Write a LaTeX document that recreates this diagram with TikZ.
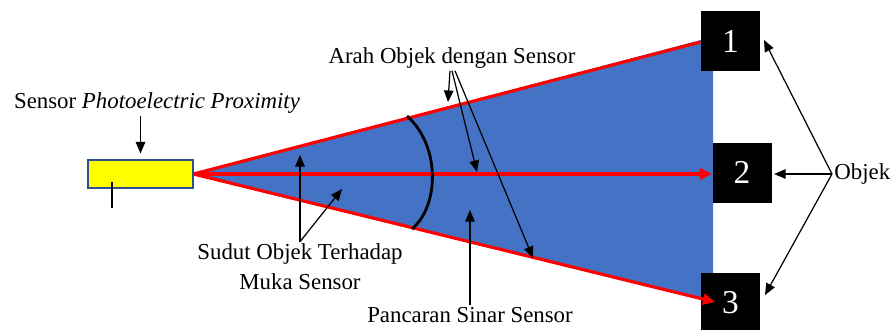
\documentclass[tikz,border=0pt]{standalone}
\usepackage{fontspec}
\setmainfont{Liberation Serif}
\usetikzlibrary{arrows.meta}
\definecolor{beamblue}{HTML}{4472C4}
\definecolor{rimblue}{HTML}{2F528F}
\definecolor{sensoryellow}{HTML}{FFFF00}
\tikzset{
  every picture/.style={font=\fontsize{13}{17}\selectfont, line width=0.7pt},
  tag/.style={inner sep=1pt, align=center},
  pointer/.style={-{Triangle[length=2.3mm, width=1.9mm]}, draw=black, line width=0.7pt},
  ray/.style={draw=red, line width=1.8pt},
  rayarrow/.style={ray, -{Triangle[length=2.4mm, width=2.2mm]}},
  objbox/.style={fill=black, text=white, minimum width=1.18cm, minimum height=1.2cm,
    inner sep=0pt, font=\fontsize{19}{21}\selectfont},
}

\begin{document}
\begin{tikzpicture}[x=0.02cm, y=-0.02cm]
  \useasboundingbox (0,0) rectangle (893,329);
  % sensor and beam
  \node[draw=rimblue, fill=sensoryellow, line width=0.6pt, minimum width=2.1cm, minimum height=0.56cm, inner sep=0pt] (sensor) at (140.5,174) {};
  \draw[line width=0.6pt] (112,182) -- (112,208);
  \coordinate (apex) at (sensor.east);
  \fill[beamblue] (apex) -- (701,40) -- (713,40) -- (713,301) -- cycle;
  % objects
  \node[objbox] (obj1) at (730.5,41) {1};
  \node[objbox] (obj2) at (742,172.5) {2};
  \node[objbox] (obj3) at (730.5,303) {3};
  \coordinate (end1) at (obj1.west |- 0,42);
  \coordinate (end3) at (715,302);
  \draw[ray] (apex) -- (end1);
  \draw[rayarrow] (apex) -- (obj2.west |- apex);
  \draw[rayarrow] (apex) -- (end3);
  % angle arc
  \draw[line width=1.6pt] (407,116) .. controls (440,145) and (440,205) .. (412,229);
  % labels
  \node[tag] (sensortext) at (157,103) {Sensor \textit{Photoelectric Proximity}};
  \node[tag] (arahtext) at (452,58) {Arah Objek dengan Sensor};
  \node[tag] (sudut) at (300,267) {Sudut Objek Terhadap\\Muka Sensor};
  \node[tag] (pancaran) at (470,315) {Pancaran Sinar Sensor};
  \node[tag, anchor=west] (objek) at (832,174) {Objek};
  % pointers
  \draw[pointer, shorten >=0.12cm] (sensortext.south -| sensor.north) -- (sensor.north);
  \coordinate (arahA) at (448,102);
  \coordinate (arahB) at (477,172);
  \coordinate (arahC) at (533,258);
  \draw[pointer] ([xshift=-0.04cm]arahtext.south) -- (arahA);
  \draw[pointer] (arahtext.south) -- (arahB);
  \draw[pointer] ([xshift=0.06cm]arahtext.south) -- (arahC);
  \coordinate (sudutA) at (300,155);
  \coordinate (sudutB) at (342,189);
  \draw[pointer] (sudut.north) -- (sudutA);
  \draw[pointer] (sudut.north) -- (sudutB);
  \coordinate (pancaranA) at (pancaran.north |- 0,210);
  \draw[pointer] (pancaran.north) -- (pancaranA);
  \coordinate (objekA) at (764,40);
  \coordinate (objekC) at (765,295);
  \draw[pointer] (objek.west) -- (objekA);
  \draw[pointer, shorten >=0.04cm] (objek.west) -- (obj2.east |- objek.west);
  \draw[pointer] (objek.west) -- (objekC);
\end{tikzpicture}
\end{document}
